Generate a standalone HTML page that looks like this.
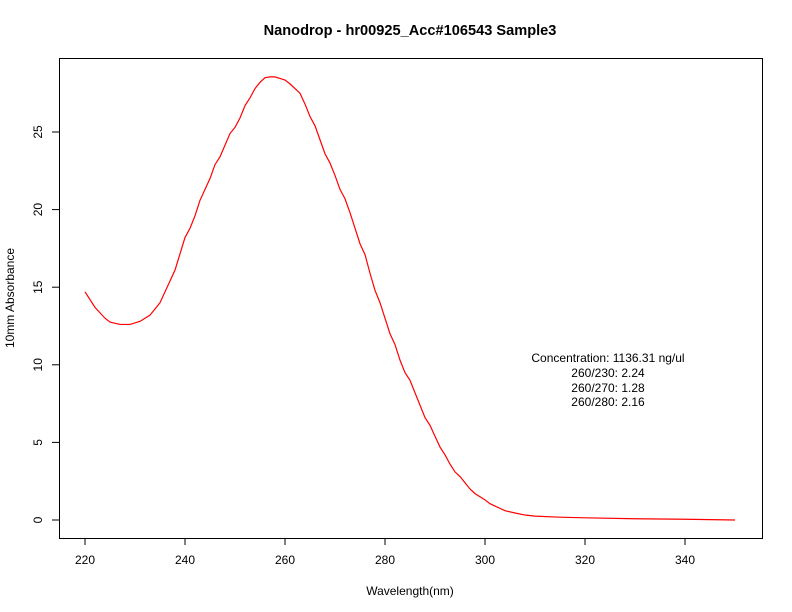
<!DOCTYPE html>
<html><head><style>body{margin:0;background:#fff}svg{display:block}text{font-family:"Liberation Sans",sans-serif;fill:#000}</style></head>
<body>
<svg width="792" height="612" viewBox="0 0 792 612">
<rect x="59.5" y="58.5" width="703" height="480" fill="none" stroke="#000" stroke-width="1"/>
<text x="410" y="35" text-anchor="middle" font-size="14.6" font-weight="bold">Nanodrop - hr00925_Acc#106543 Sample3</text>
<g stroke="#000" stroke-width="1">
<line x1="85" y1="538.5" x2="685" y2="538.5"/>
<line x1="85" y1="538" x2="85" y2="545"/><line x1="185" y1="538" x2="185" y2="545"/><line x1="285" y1="538" x2="285" y2="545"/><line x1="385" y1="538" x2="385" y2="545"/><line x1="485" y1="538" x2="485" y2="545"/><line x1="585" y1="538" x2="585" y2="545"/><line x1="685" y1="538" x2="685" y2="545"/>
<line x1="59.5" y1="520" x2="59.5" y2="132"/>
<line x1="52" y1="520" x2="59" y2="520"/><line x1="52" y1="442.4" x2="59" y2="442.4"/><line x1="52" y1="364.8" x2="59" y2="364.8"/><line x1="52" y1="287.2" x2="59" y2="287.2"/><line x1="52" y1="209.6" x2="59" y2="209.6"/><line x1="52" y1="132" x2="59" y2="132"/>
</g>
<g font-size="12" text-anchor="middle">
<text x="85" y="564">220</text><text x="185" y="564">240</text><text x="285" y="564">260</text><text x="385" y="564">280</text><text x="485" y="564">300</text><text x="585" y="564">320</text><text x="685" y="564">340</text>
<text transform="translate(42,520) rotate(-90)">0</text>
<text transform="translate(42,442.4) rotate(-90)">5</text>
<text transform="translate(42,364.8) rotate(-90)">10</text>
<text transform="translate(42,287.2) rotate(-90)">15</text>
<text transform="translate(42,209.6) rotate(-90)">20</text>
<text transform="translate(42,132) rotate(-90)">25</text>
<text x="410" y="595">Wavelength(nm)</text>
<text transform="translate(14,298) rotate(-90)">10mm Absorbance</text>
<text x="608" y="362">Concentration: 1136.31 ng/ul</text>
<text x="608" y="377">260/230: 2.24</text>
<text x="608" y="392">260/270: 1.28</text>
<text x="608" y="406">260/280: 2.16</text>
</g>
<polyline fill="none" stroke="#f00" stroke-width="1.2" vector-effect="non-scaling-stroke" transform="translate(85,520) scale(5,-15.52)" points="0,14.7 2,13.7 4,13.0 5,12.75 7,12.6 9,12.6 11,12.8 13,13.2 15,14.0 17,15.4 18,16.1 20,18.2 21,18.8 22,19.6 23,20.6 25,22.0 26,22.9 27,23.4 29,24.9 30,25.3 31,25.9 32,26.7 33,27.2 34,27.8 35,28.2 36,28.5 37,28.55 38,28.55 39,28.45 40,28.35 41,28.1 42,27.8 43,27.5 44,26.8 45,26.0 46,25.4 47,24.5 48,23.6 49,23.0 50,22.2 51,21.3 52,20.7 53,19.8 54,18.8 55,17.8 56,17.1 57,15.9 58,14.8 59,14.0 60,13.0 61,12.0 62,11.3 63,10.3 64,9.5 65,9.0 66,8.2 67,7.4 68,6.6 69,6.1 70,5.4 71,4.7 72,4.2 73,3.6 74,3.1 75,2.8 76,2.4 77,2.0 78,1.7 79,1.5 80,1.3 81,1.05 82,0.9 83,0.75 84,0.6 86,0.45 88,0.32 90,0.25 95,0.18 100,0.14 110,0.08 120,0.05 130,0.0"/>
</svg>
</body></html>
